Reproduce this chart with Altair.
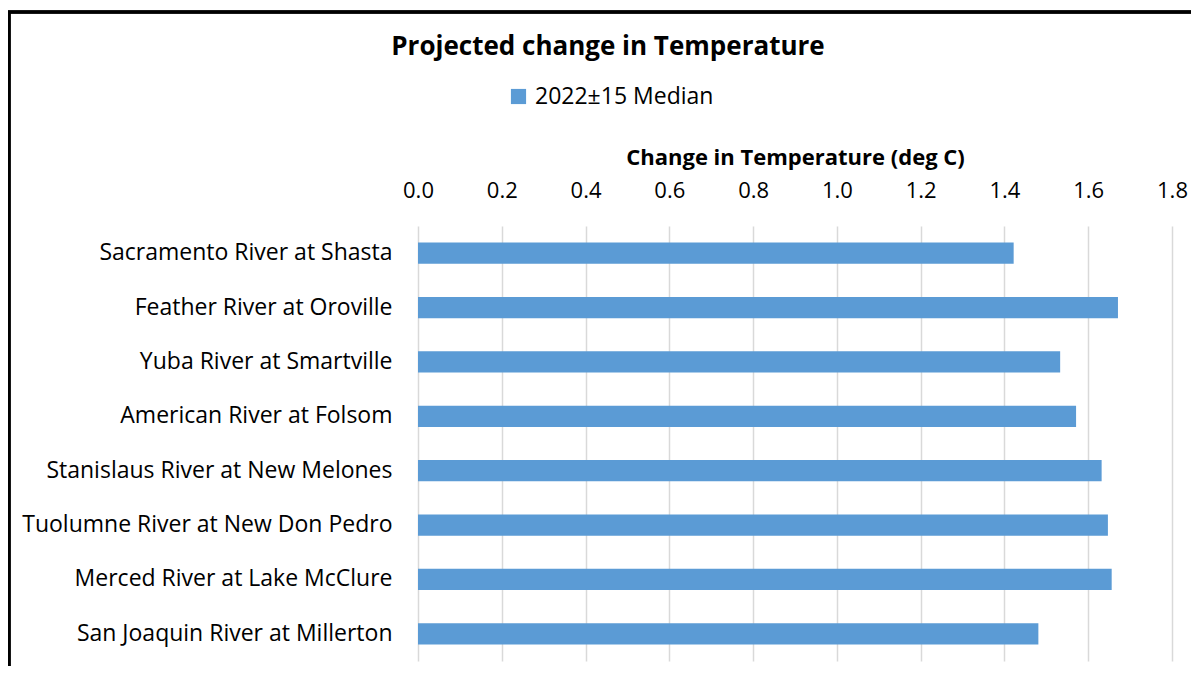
import altair as alt
import pandas as pd

rivers = [
    "Sacramento River at Shasta",
    "Feather River at Oroville",
    "Yuba River at Smartville",
    "American River at Folsom",
    "Stanislaus River at New Melones",
    "Tuolumne River at New Don Pedro",
    "Merced River at Lake McClure",
    "San Joaquin River at Millerton",
]
median_change = [1.422, 1.671, 1.533, 1.571, 1.632, 1.647, 1.656, 1.481]
series_name = "2022±15 Median"
x_ticks = [0.0, 0.2, 0.4, 0.6, 0.8, 1.0, 1.2, 1.4, 1.6, 1.8]

df = pd.DataFrame({"river": rivers, "change": median_change, "series": series_name})

FONT = "Open Sans"
W, H = 754, 435

bars = alt.Chart(df).mark_bar(color="#5b9bd5").encode(
    x=alt.X(
        "change:Q",
        scale=alt.Scale(domain=[0, 1.8], nice=False),
        axis=alt.Axis(
            orient="top",
            values=x_ticks,
            format=".1f",
            title="Change in Temperature (deg C)",
            titleFont=FONT,
            titleFontSize=22,
            titleFontWeight="bold",
            titleColor="#000000",
            titlePadding=10,
            labelFont=FONT,
            labelFontSize=22,
            labelColor="#000000",
            labelPadding=24,
            labelFlush=False,
            ticks=False,
            domain=False,
            grid=True,
            gridColor="#d9d9d9",
            gridWidth=1.5,
        ),
    ),
    y=alt.Y(
        "river:N",
        sort=rivers,
        scale=alt.Scale(paddingInner=0.61, paddingOuter=0.305),
        axis=alt.Axis(
            title=None,
            labelFont=FONT,
            labelFontSize=23,
            labelColor="#000000",
            labelPadding=26,
            ticks=False,
            domain=False,
            grid=False,
            labelLimit=500,
        ),
    ),
    fill=alt.Fill(
        "series:N",
        scale=alt.Scale(range=["#5b9bd5"]),
        legend=alt.Legend(
            title=None,
            orient="none",
            legendX=89,
            legendY=-141,
            symbolType="square",
            symbolSize=230,
            symbolStrokeWidth=0,
            labelFont=FONT,
            labelFontSize=23,
            labelColor="#000000",
            labelOffset=5,
            labelLimit=400,
        ),
    ),
)

frame_left = alt.Chart(df).mark_rule(color="#000000", strokeWidth=2.5).encode(
    x=alt.value(-409), y=alt.value(-214), y2=alt.value(H + 10)
)
frame_top = alt.Chart(df).mark_rule(color="#000000", strokeWidth=2.5).encode(
    x=alt.value(-410), x2=alt.value(W + 40), y=alt.value(-214)
)

chart = alt.layer(bars, frame_left, frame_top).properties(
    width=W,
    height=H,
    background="#ffffff",
    title=alt.TitleParams(
        "Projected change in Temperature",
        font=FONT,
        fontSize=26,
        fontWeight="bold",
        color="#000000",
        anchor="middle",
        dx=-187,
        dy=53,
    ),
    autosize=alt.AutoSizeParams(type="none"),
    padding={"left": 410, "top": 218, "right": 19, "bottom": 5},
).configure_view(strokeWidth=0, stroke="transparent")

chart.save("out.html", embed_options={"renderer": "svg", "actions": False})
